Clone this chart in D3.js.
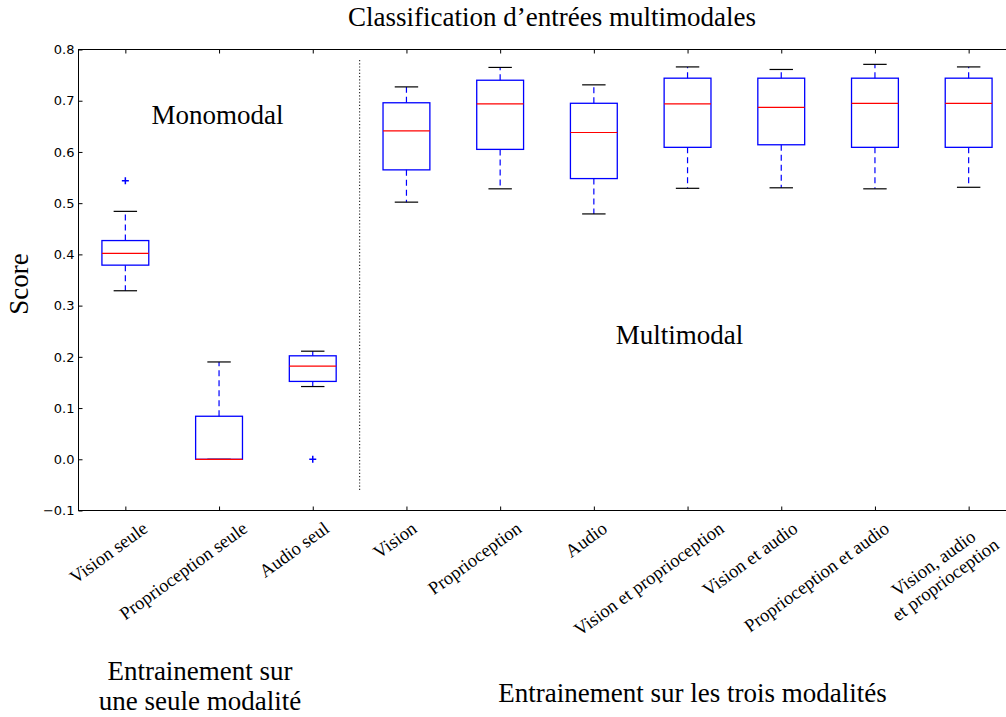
<!DOCTYPE html>
<html>
<head>
<meta charset="utf-8">
<script src="https://cdn.jsdelivr.net/npm/d3@7"></script>
<style>
  body { margin: 0; background: #fff; }
  svg { display: block; }
</style>
</head>
<body>
<svg id="chart" width="1006" height="717"></svg>
<script>
// Score distributions per training condition (box plot summary statistics)
const categories = [
  "Vision seule", "Proprioception seule", "Audio seul",
  "Vision", "Proprioception", "Audio",
  "Vision et proprioception", "Vision et audio", "Proprioception et audio",
  "Vision, audio\net proprioception"
];
const whiskerLow  = [0.329, 0.000, 0.142, 0.502, 0.528, 0.479, 0.529, 0.530, 0.528, 0.531];
const quartile1   = [0.379, 0.000, 0.152, 0.565, 0.605, 0.548, 0.609, 0.614, 0.609, 0.609];
const medians     = [0.402, 0.000, 0.182, 0.641, 0.694, 0.638, 0.694, 0.687, 0.695, 0.695];
const quartile3   = [0.427, 0.084, 0.202, 0.696, 0.740, 0.695, 0.744, 0.744, 0.744, 0.744];
const whiskerHigh = [0.484, 0.190, 0.211, 0.727, 0.765, 0.731, 0.766, 0.761, 0.771, 0.766];
const outliers    = [[0.544], [], [0.0], [], [], [], [], [], [], []];
const yTicks = [-0.1, 0.0, 0.1, 0.2, 0.3, 0.4, 0.5, 0.6, 0.7, 0.8];

const titleText = "Classification d\u2019entrées multimodales";
const yLabel = "Score";
const groupLabels = ["Monomodal", "Multimodal"];
const bottomLeftLines = ["Entrainement sur", "une seule modalité"];
const bottomRightText = "Entrainement sur les trois modalités";

// Layout: how far right of its tick each rotated label ends (px)
const labelShift = [26, 32, 20, 14, 25, 17, 40, 20, 18, 34];

const svg = d3.select("#chart");
const serif = "'Liberation Serif', 'Times New Roman', serif";
const sans = "'DejaVu Sans', sans-serif";

const positions = categories.map((_, i) => i + 1);
const x = d3.scaleLinear().domain([0.5, 10.5]).range([78.5, 1015.5]);
const y = d3.scaleLinear().domain([-0.1, 0.8]).range([510.5, 49.5]);

const boxHalf = 0.25, capHalf = 0.125;
const blue = "#0000ff", red = "#ff0000";

// Axes frame
svg.append("rect")
  .attr("x", x(0.5)).attr("y", y(0.8))
  .attr("width", x(10.5) - x(0.5)).attr("height", y(-0.1) - y(0.8))
  .attr("fill", "none").attr("stroke", "#000").attr("stroke-width", 1);

// Left axis: inward ticks, sans-serif labels
const fmt = d => (d < 0 ? "\u2212" : "") + Math.abs(d).toFixed(1);
const gl = svg.append("g").attr("transform", `translate(${x(0.5)},0)`)
  .call(d3.axisLeft(y).tickValues(yTicks).tickSize(-4).tickSizeOuter(0).tickPadding(4).tickFormat(fmt));
gl.select(".domain").remove();
gl.selectAll("text").attr("font-family", sans).attr("font-size", 13).attr("fill", "#000");
gl.selectAll("line").attr("stroke", "#000");

// Right axis ticks
const gr = svg.append("g").attr("transform", `translate(${x(10.5)},0)`)
  .call(d3.axisRight(y).tickValues(yTicks).tickSize(-4).tickSizeOuter(0).tickFormat(""));
gr.select(".domain").remove();

// Top and bottom category ticks
const gt = svg.append("g").attr("transform", `translate(0,${y(0.8)})`)
  .call(d3.axisTop(x).tickValues(positions).tickSize(-4).tickSizeOuter(0).tickFormat(""));
gt.select(".domain").remove();
gt.selectAll("line").attr("stroke", "#000");
const gb = svg.append("g").attr("transform", `translate(0,${y(-0.1)})`)
  .call(d3.axisBottom(x).tickValues(positions).tickSize(-4).tickSizeOuter(0).tickFormat(""));
gb.select(".domain").remove();
gb.selectAll("line").attr("stroke", "#000");

// Separator between single-modality and multimodal training
svg.append("line")
  .attr("x1", x(3.5)).attr("x2", x(3.5))
  .attr("y1", y(-0.06)).attr("y2", y(0.78))
  .attr("stroke", "#333").attr("stroke-width", 1.2).attr("stroke-dasharray", "1.2,2");

// Box plots
const boxes = svg.append("g");
categories.forEach((c, i) => {
  const p = positions[i];
  const g = boxes.append("g");
  // whiskers
  [[quartile1[i], whiskerLow[i]], [quartile3[i], whiskerHigh[i]]].forEach(([a, b]) => {
    g.append("line").attr("x1", x(p)).attr("x2", x(p)).attr("y1", y(a)).attr("y2", y(b))
      .attr("stroke", blue).attr("stroke-width", 1.2).attr("stroke-dasharray", "6,4");
  });
  // caps
  [whiskerLow[i], whiskerHigh[i]].forEach(v => {
    g.append("line").attr("x1", x(p - capHalf)).attr("x2", x(p + capHalf)).attr("y1", y(v)).attr("y2", y(v))
      .attr("stroke", "#000").attr("stroke-width", 1.2);
  });
  // box
  g.append("rect")
    .attr("x", x(p - boxHalf)).attr("y", y(quartile3[i]))
    .attr("width", x(p + boxHalf) - x(p - boxHalf))
    .attr("height", Math.max(0, y(quartile1[i]) - y(quartile3[i])))
    .attr("fill", "none").attr("stroke", blue).attr("stroke-width", 1.3);
  // median
  g.append("line").attr("x1", x(p - boxHalf)).attr("x2", x(p + boxHalf))
    .attr("y1", y(medians[i])).attr("y2", y(medians[i]))
    .attr("stroke", red).attr("stroke-width", 1.2);
  // fliers
  outliers[i].forEach(v => {
    const cx = x(p), cy = y(v), r = 3.5;
    g.append("path").attr("d", `M${cx - r},${cy}H${cx + r}M${cx},${cy - r}V${cy + r}`)
      .attr("stroke", blue).attr("stroke-width", 1.5).attr("fill", "none");
  });
});

// Rotated category labels
categories.forEach((c, i) => {
  const g = svg.append("g");
  const t = g.append("text")
    .attr("font-family", serif).attr("font-size", 18.5).attr("fill", "#000")
    .attr("text-anchor", "middle").attr("transform", "rotate(-36)");
  c.split("\n").forEach((line, k) => {
    t.append("tspan").attr("x", 0).attr("dy", k === 0 ? 0 : "1.1em").text(line);
  });
  const bb = g.node().getBBox();
  const tx = x(positions[i]) + labelShift[i] - (bb.x + bb.width);
  const ty = 518 - bb.y;
  g.attr("transform", `translate(${tx},${ty})`);
});

// Title
svg.append("text").attr("x", 552).attr("y", 26)
  .attr("text-anchor", "middle").attr("font-family", serif).attr("font-size", 27)
  .text(titleText);

// Y axis label
svg.append("text").attr("transform", "translate(28,284) rotate(-90)")
  .attr("text-anchor", "middle").attr("font-family", serif).attr("font-size", 27)
  .text(yLabel);

// Group annotations inside the axes
svg.append("text").attr("x", 217.5).attr("y", 124)
  .attr("text-anchor", "middle").attr("font-family", serif).attr("font-size", 27)
  .text(groupLabels[0]);
svg.append("text").attr("x", 679.5).attr("y", 344)
  .attr("text-anchor", "middle").attr("font-family", serif).attr("font-size", 27)
  .text(groupLabels[1]);

// Training regime captions under the axis
bottomLeftLines.forEach((line, k) => {
  svg.append("text").attr("x", 200).attr("y", 680 + k * 30)
    .attr("text-anchor", "middle").attr("font-family", serif).attr("font-size", 27)
    .text(line);
});
svg.append("text").attr("x", 692.5).attr("y", 702)
  .attr("text-anchor", "middle").attr("font-family", serif).attr("font-size", 27)
  .text(bottomRightText);
</script>
</body>
</html>
